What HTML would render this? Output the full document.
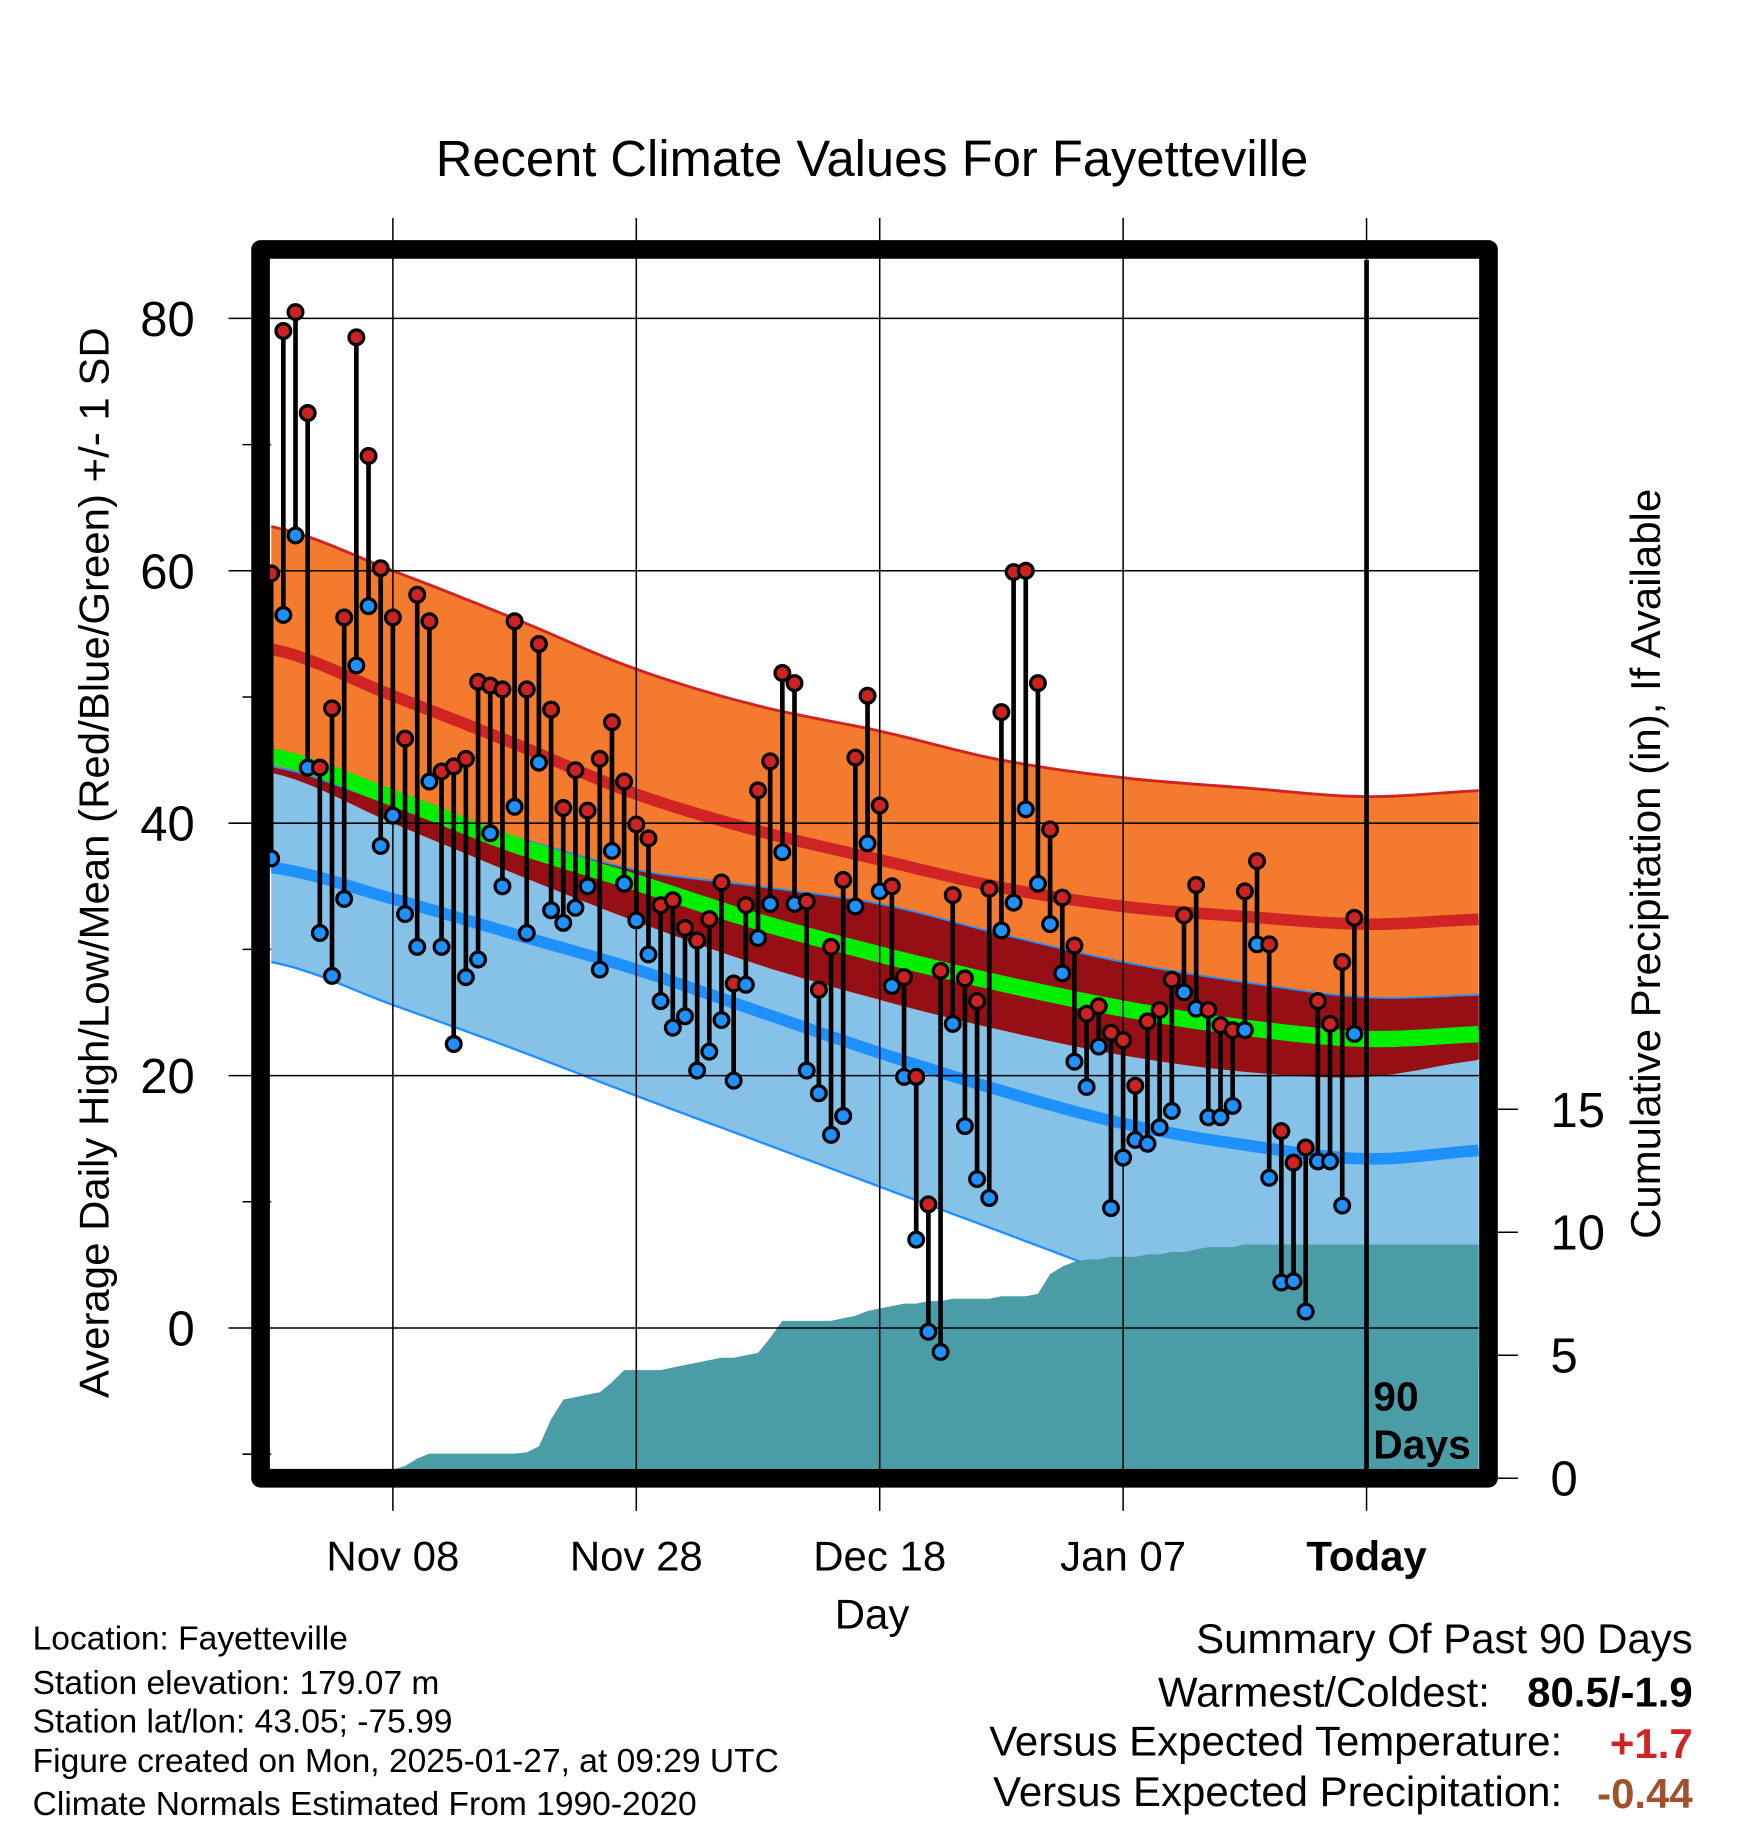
<!DOCTYPE html>
<html><head><meta charset="utf-8"><style>
html,body{margin:0;padding:0;background:#fff;}
svg{display:block;font-family:"Liberation Sans",Arial,sans-serif;}
</style></head><body>
<svg id="chart" width="1748" height="1828" viewBox="0 0 1499.4 1568" preserveAspectRatio="none" xmlns="http://www.w3.org/2000/svg">
<g id="layer"></g>
</svg>
<script>
// ---- data ----
const highs = [59.8,79.0,80.5,72.5,44.4,49.1,56.3,78.5,69.1,60.2,56.3,46.7,58.1,56.0,44.1,44.5,45.1,51.2,50.9,50.6,56.0,50.6,54.2,49.0,41.2,44.2,41.0,45.1,48.0,43.3,39.9,38.8,33.5,33.9,31.7,30.7,32.4,35.3,27.3,33.5,42.6,44.9,51.9,51.1,33.8,26.8,30.2,35.5,45.2,50.1,41.4,35.0,27.8,19.9,9.8,28.3,34.3,27.7,25.9,34.8,48.8,59.9,60.0,51.1,39.5,34.1,30.3,24.9,25.5,23.4,22.8,19.2,24.3,25.2,27.6,32.7,35.1,25.2,24.0,23.6,34.6,37.0,30.4,15.6,13.1,14.3,25.9,24.1,29.0,32.5];
const lows = [37.2,56.5,62.8,44.4,31.3,27.9,34.0,52.5,57.2,38.2,40.6,32.8,30.2,43.3,30.2,22.5,27.8,29.2,39.2,35.0,41.3,31.3,44.8,33.1,32.1,33.3,35.0,28.4,37.8,35.2,32.3,29.6,25.9,23.8,24.7,20.4,21.9,24.4,19.6,27.2,30.9,33.6,37.7,33.6,20.4,18.6,15.3,16.8,33.4,38.4,34.6,27.1,19.9,7.0,-0.3,-1.9,24.1,16.0,11.8,10.3,31.5,33.7,41.1,35.2,32.0,28.1,21.1,19.1,22.3,9.5,13.5,14.9,14.6,15.9,17.2,26.6,25.3,16.7,16.7,17.6,23.6,30.4,11.9,3.6,3.7,1.3,13.2,13.2,9.7,23.3];
const precip = [0,0,0.05,0.1,0.1,0.15,0.2,0.25,0.3,0.3,0.35,0.5,0.8,1.0,1.0,1.0,1.0,1.0,1.0,1.0,1.0,1.05,1.3,2.4,3.2,3.3,3.4,3.5,3.9,4.4,4.4,4.4,4.4,4.5,4.6,4.7,4.8,4.9,4.9,5.0,5.1,5.7,6.4,6.4,6.4,6.4,6.4,6.5,6.6,6.8,6.9,7.0,7.1,7.1,7.2,7.2,7.3,7.3,7.3,7.3,7.4,7.4,7.4,7.5,8.3,8.6,8.8,8.9,8.9,9.0,9.0,9.0,9.1,9.1,9.2,9.2,9.3,9.4,9.4,9.4,9.5,9.5,9.5,9.5,9.5,9.5,9.5,9.5,9.5,9.5];
const normDays = [0,10,20,30,40,50,60,70,80,90,100];
const hiUp   = [63.5,60.0,56.2,52.2,49.3,47.3,45.0,43.6,42.8,42.1,42.6];
const hiMean = [53.8,50.1,46.3,42.3,39.4,37.1,34.9,33.4,32.6,32.0,32.4];
const hiLow  = [44.0,40.0,36.0,32.2,28.8,26.0,23.6,21.6,20.3,19.9,21.3];
const meanT  = [45.3,42.0,38.3,35.3,32.2,29.6,27.3,25.3,23.8,22.9,23.3];
const loUp   = [44.5,41.5,38.9,36.3,35.0,33.6,31.2,29.0,27.4,26.2,26.4];
const loMean = [36.5,34.0,31.2,28.4,25.1,21.8,18.8,16.2,14.5,13.4,14.1];
const loLow  = [29.0,25.6,22.1,18.4,14.8,11.2,7.6,4.0,0.6,-2.6,-3.0];
const yTicks = [0,20,40,60,80];
const yMinor = [-10,10,30,50,70];
const xTickDays = [10,30,50,70];
const xTickLabels = ["Nov 08","Nov 28","Dec 18","Jan 07"];
const pTicks = [0,5,10,15];

// ---- axes ----
const L=232.6, R=1268.5, T=223, B=1260;
const X = d => 232.6 + 10.44*d;
const Y = v => 1139.1 - 10.825*v;
const PY = p => 1268 - 21.1*p;
const NS="http://www.w3.org/2000/svg";
const layer=document.getElementById('layer');
function mk(tag, attrs, parent){const e=document.createElementNS(NS,tag);for(const k in attrs)e.setAttribute(k,attrs[k]);(parent||layer).appendChild(e);return e;}

function curve(vals){
  const pts=[];
  for(let i=0;i<normDays.length-1;i++){
    const p0=vals[Math.max(0,i-1)],p1=vals[i],p2=vals[i+1],p3=vals[Math.min(vals.length-1,i+2)];
    for(let s=0;s<10;s++){const t=s/10;
      const v=0.5*((2*p1)+(-p0+p2)*t+(2*p0-5*p1+4*p2-p3)*t*t+(-p0+3*p1-3*p2+p3)*t*t*t);
      pts.push([normDays[i]+(normDays[i+1]-normDays[i])*t,v]);}
  }
  pts.push([normDays[normDays.length-1],vals[vals.length-1]]);
  return pts.map(p=>[Math.min(X(p[0]),R),p[1]]);
}
const cHU=curve(hiUp),cHM=curve(hiMean),cHL=curve(hiLow),cM=curve(meanT),cLU=curve(loUp),cLM=curve(loMean),cLL=curve(loLow);
const line = c => c.map((p,i)=>(i?'L':'M')+p[0].toFixed(1)+','+Y(p[1]).toFixed(1)).join('');
const band = (a,b) => line(a)+b.slice().reverse().map(p=>'L'+p[0].toFixed(1)+','+Y(p[1]).toFixed(1)).join('')+'Z';

const clip=mk('clipPath',{id:'plotclip'});mk('rect',{x:L,y:T,width:R-L,height:B-T},clip);
const g=mk('g',{'clip-path':'url(#plotclip)'});

let e;
e=mk('path',{d:band(cLU,cLL),fill:'#86c2e8'},g);


e=mk('path',{d:band(cHU,cHL),fill:'#f47a2d'},g);


const bandTop=cLU.map((p,i)=>[p[0],Math.max(p[1],cHL[i][1])]);
e=mk('path',{d:band(bandTop,cHL),fill:'#960f14'},g);


mk('path',{d:line(cLU),fill:'none',stroke:'#1e90ff','stroke-width':1.5},g);
mk('path',{d:line(cLL),fill:'none',stroke:'#1e90ff','stroke-width':2},g);
mk('path',{d:line(cHU),fill:'none',stroke:'#d02424','stroke-width':2.5},g);
e=mk('path',{d:line(cHM),fill:'none',stroke:'#d02424','stroke-width':10},g);


e=mk('path',{d:line(cLM),fill:'none',stroke:'#1e90ff','stroke-width':10},g);


e=mk('path',{d:line(cM),fill:'none',stroke:'#00ee00','stroke-width':14},g);



let pd='M'+X(0)+','+PY(0);
precip.forEach((p,i)=>{pd+='L'+X(i).toFixed(1)+','+PY(p).toFixed(1);});
pd+='L'+R+','+PY(precip[precip.length-1]).toFixed(1)+'L'+R+','+PY(0)+'Z';
e=mk('path',{d:pd,fill:'#4a9ca6'},g);



yTicks.forEach(v=>{mk('line',{x1:196,x2:R,y1:Y(v),y2:Y(v),stroke:'#000','stroke-width':1.3});
  e=mk('text',{x:167,y:Y(v)+15,'text-anchor':'end','font-size':42});e.textContent=v;
  
  });
yMinor.forEach(v=>{mk('line',{x1:208,x2:L,y1:Y(v),y2:Y(v),stroke:'#000','stroke-width':1.3});});
xTickDays.forEach((d,i)=>{mk('line',{x1:X(d),x2:X(d),y1:187,y2:1296,stroke:'#000','stroke-width':1.3});
  e=mk('text',{x:X(d),y:1347,'text-anchor':'middle','font-size':36});e.textContent=xTickLabels[i];
  
  });
mk('line',{x1:X(90),x2:X(90),y1:187,y2:1296,stroke:'#000','stroke-width':1.3});
mk('line',{x1:X(90),x2:X(90),y1:T,y2:B,stroke:'#000','stroke-width':4});
e=mk('text',{x:X(90),y:1347,'text-anchor':'middle','font-size':36,'font-weight':'bold'});e.textContent='Today';



highs.forEach((h,i)=>{
  const lo=lows[i];
  e=mk('line',{x1:X(i),x2:X(i),y1:Y(h),y2:Y(lo),stroke:'#000','stroke-width':4});
  
  
});
highs.forEach((h,i)=>{
  e=mk('circle',{cx:X(i),cy:Y(lows[i]),r:6.3,fill:'#1e90ff',stroke:'#000','stroke-width':2.8});
  
  
  e=mk('circle',{cx:X(i),cy:Y(h),r:6.3,fill:'#cc2222',stroke:'#000','stroke-width':2.8});
  
  
});

e=mk('rect',{x:223.5,y:214,width:1053.3,height:1054,fill:'none',stroke:'#000','stroke-width':16,'stroke-linejoin':'round'});



pTicks.forEach(p=>{mk('line',{x1:1285,x2:1302,y1:PY(p),y2:PY(p),stroke:'#000','stroke-width':1.3});
  e=mk('text',{x:1330,y:PY(p)+15,'font-size':42});e.textContent=p;
  
  });
</script>
<svg style="position:absolute;left:0;top:0" width="1748" height="1828" viewBox="0 0 1499.4 1568" preserveAspectRatio="none" xmlns="http://www.w3.org/2000/svg" font-family="Liberation Sans, Arial, sans-serif">
<text x="748" y="151" text-anchor="middle" font-size="43.5">Recent Climate Values For Fayetteville</text>
<text x="748" y="1397" text-anchor="middle" font-size="36">Day</text>
<text transform="translate(93,740) rotate(-90)" text-anchor="middle" font-size="36">Average Daily High/Low/Mean (Red/Blue/Green) +/- 1 SD</text>
<text transform="translate(1424,741) rotate(-90)" text-anchor="middle" font-size="36">Cumulative Precipitation (in), If Available</text>
<text x="1178" y="1210" font-size="35" font-weight="bold">90</text>
<text x="1178" y="1251" font-size="35" font-weight="bold">Days</text>
<g font-size="28.8">
<text x="28" y="1415">Location: Fayetteville</text>
<text x="28" y="1453">Station elevation: 179.07 m</text>
<text x="28" y="1486">Station lat/lon: 43.05; -75.99</text>
<text x="28" y="1520">Figure created on Mon, 2025-01-27, at 09:29 UTC</text>
<text x="28" y="1557">Climate Normals Estimated From 1990-2020</text>
</g>
<g font-size="36">
<text x="1452" y="1418" text-anchor="end">Summary Of Past 90 Days</text>
<text x="1278" y="1464" text-anchor="end">Warmest/Coldest:</text>
<text x="1452" y="1464" text-anchor="end" font-weight="bold">80.5/-1.9</text>
<text x="1340" y="1506" text-anchor="end">Versus Expected Temperature:</text>
<text x="1452" y="1508" text-anchor="end" font-weight="bold" fill="#d02424">+1.7</text>
<text x="1340" y="1549" text-anchor="end">Versus Expected Precipitation:</text>
<text x="1452" y="1551" text-anchor="end" font-weight="bold" fill="#a0522d">-0.44</text>
</g>
</svg>
</body></html>
